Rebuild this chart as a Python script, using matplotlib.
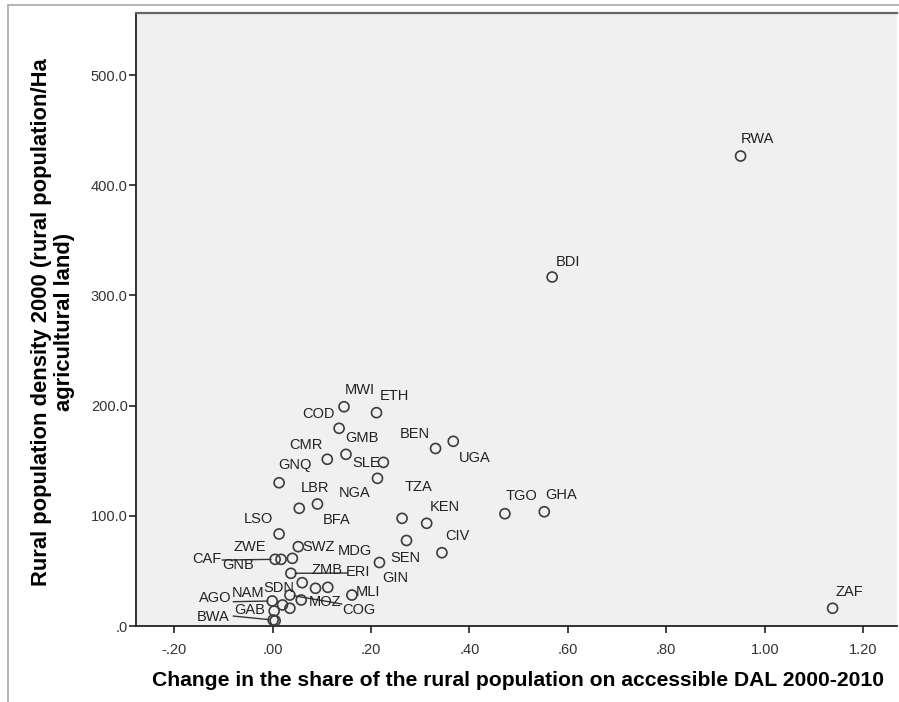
import matplotlib
matplotlib.use('Agg')
import matplotlib.pyplot as plt
from matplotlib.patches import Rectangle

plt.rcParams['font.family'] = ['Liberation Sans', 'DejaVu Sans']

# country codes ('' = point without a visible label)
codes = ['RWA', 'BDI', 'ZAF', 'MWI', 'ETH', 'COD', 'GMB', 'CMR', 'SLE', 'GNQ',
         'NGA', 'BEN', 'UGA', 'TZA', 'KEN', 'TGO', 'GHA', 'CIV', 'SEN', 'LBR',
         'BFA', 'LSO', 'SWZ', 'CAF', 'ZWE', 'GNB', 'GIN', 'ZMB', 'MDG', 'ERI',
         'COG', 'MOZ', 'SDN', 'NAM', 'AGO', '', 'BWA', 'GAB', '', 'MLI']

# change in the share of rural population on accessible DAL 2000-2010
share_change = [0.951, 0.568, 1.138, 0.145, 0.211, 0.135, 0.149, 0.111, 0.225, 0.013,
                0.213, 0.331, 0.367, 0.263, 0.313, 0.472, 0.552, 0.344, 0.272, 0.054,
                0.091, 0.013, 0.052, 0.005, 0.017, 0.040, 0.217, 0.037, 0.060, 0.087,
                0.112, 0.035, 0.058, -0.001, 0.020, 0.035, 0.003, 0.001, 0.005, 0.161]

# rural population density 2000
density = [426.5, 316.7, 16.1, 199.0, 193.6, 179.4, 155.8, 151.3, 148.5, 130.0,
           134.0, 161.1, 167.6, 97.7, 93.2, 101.9, 103.7, 66.5, 77.6, 106.8,
           110.7, 83.5, 72.0, 60.5, 60.5, 61.4, 57.6, 47.8, 39.3, 34.2,
           35.1, 28.1, 23.6, 22.7, 19.1, 16.1, 13.6, 5.4, 4.8, 28.1]

xticks = [-0.2, 0.0, 0.2, 0.4, 0.6, 0.8, 1.0, 1.2]
xtick_labels = ['-.20', '.00', '.20', '.40', '.60', '.80', '1.00', '1.20']
yticks = [0, 100, 200, 300, 400, 500]
ytick_labels = ['.0', '100.0', '200.0', '300.0', '400.0', '500.0']

# label placement, in pixels from the point (dx right, dy down)
label_pos = {
    'RWA': (16.6, -16.7), 'BDI': (16, -15), 'ZAF': (16.6, -16.6), 'MWI': (16, -16.7),
    'ETH': (17.6, -16.7), 'COD': (-21, -14), 'GMB': (15.7, -16), 'CMR': (-21.6, -14.3),
    'SLE': (-17.3, 1), 'GNQ': (15.7, -17.7), 'NGA': (-23.3, 14.4), 'BEN': (-20.7, -14.5),
    'UGA': (21, 16.4), 'TZA': (16, -31.6), 'KEN': (18.3, -16.6), 'TGO': (17, -17.7),
    'GHA': (16.7, -16.7), 'CIV': (15.6, -16.7), 'SEN': (-0.7, 17.5), 'LBR': (15.7, -20),
    'BFA': (18.7, 15.7), 'LSO': (-21, -14.7), 'SWZ': (20, 0), 'CAF': (-68.3, 0),
    'ZWE': (-31, -12.6), 'GNB': (-54, 6.7), 'GIN': (15.7, 15.8), 'ZMB': (36, -3.3),
    'MDG': (52.7, -31.7), 'ERI': (42.6, -16.6), 'COG': (30.6, 22.7), 'MOZ': (35, 6.7),
    'SDN': (-22.7, -11.7), 'NAM': (-24, -7.7), 'AGO': (-67.3, -6.7), 'BWA': (-60.7, 6.3),
    'GAB': (-23.3, -10), 'MLI': (16.6, -3.3),
}
# leader lines: far end in pixels from the point
leaders = {'CAF': (-53, 0.7), 'NAM': (-39, 0.7), 'GAB': (-40, -4),
           'ZMB': (57, -0.3), 'MOZ': (52, 9)}

PX = 72 / 100  # points per pixel

fig = plt.figure(figsize=(8.99, 7.02), dpi=100)
fig.patches.append(Rectangle((8 / 899, -0.05), 1.0, 1.05 - 5 / 702, transform=fig.transFigure,
                             fill=False, edgecolor='#a8a8a8', linewidth=1.2))

ax = fig.add_axes([136 / 899, 1 - 626 / 702, 761 / 899, 613 / 702])
ax.set_facecolor('#f0f0f0')

ax.scatter(share_change, density, s=52, facecolors='none', edgecolors='#3c3c3c',
           linewidths=1.2, zorder=3)

for code, x, y in zip(codes, share_change, density):
    if code in leaders:
        lx, ly = leaders[code]
        ax.annotate('', xy=(x, y), xytext=(lx * PX, -ly * PX), textcoords='offset points',
                    arrowprops=dict(arrowstyle='-', color='#333333', lw=1.0,
                                    shrinkA=0, shrinkB=3))
    if code:
        dx, dy = label_pos[code]
        ax.annotate(code, xy=(x, y), xytext=(dx * PX, -dy * PX), textcoords='offset points',
                    ha='center', va='center', fontsize=10.5, color='#222222', zorder=4)

ax.set_xlim(-0.2778, 1.2689)
ax.set_ylim(0, 556.3)
ax.set_xticks(xticks)
ax.set_xticklabels(xtick_labels)
ax.set_yticks(yticks)
ax.set_yticklabels(ytick_labels)
ax.tick_params(axis='x', direction='out', length=5, width=1.2, pad=7,
               labelsize=10.5, labelcolor='#333333', color='#222222')
ax.tick_params(axis='y', direction='out', length=5, width=1.2, pad=1,
               labelsize=10.5, labelcolor='#333333', color='#222222')

for side in ['left', 'bottom']:
    ax.spines[side].set_color('#222222')
    ax.spines[side].set_linewidth(1.3)
ax.spines['top'].set_color('#666666')
ax.spines['top'].set_linewidth(1.6)
ax.spines['right'].set_visible(False)

ax.set_xlabel('Change in the share of the rural population on accessible DAL 2000-2010',
              fontsize=15.2, fontweight='bold', va='center')
ax.xaxis.set_label_coords(0.502, -0.0897)
ax.set_ylabel('Rural population density 2000 (rural population/Ha\nagricultural land)',
              fontsize=15.8, fontweight='bold', ha='center', va='center',
              multialignment='center', linespacing=1.1)
ax.yaxis.set_label_coords(-0.109, 0.496)

fig.savefig('out.png', dpi=100)
